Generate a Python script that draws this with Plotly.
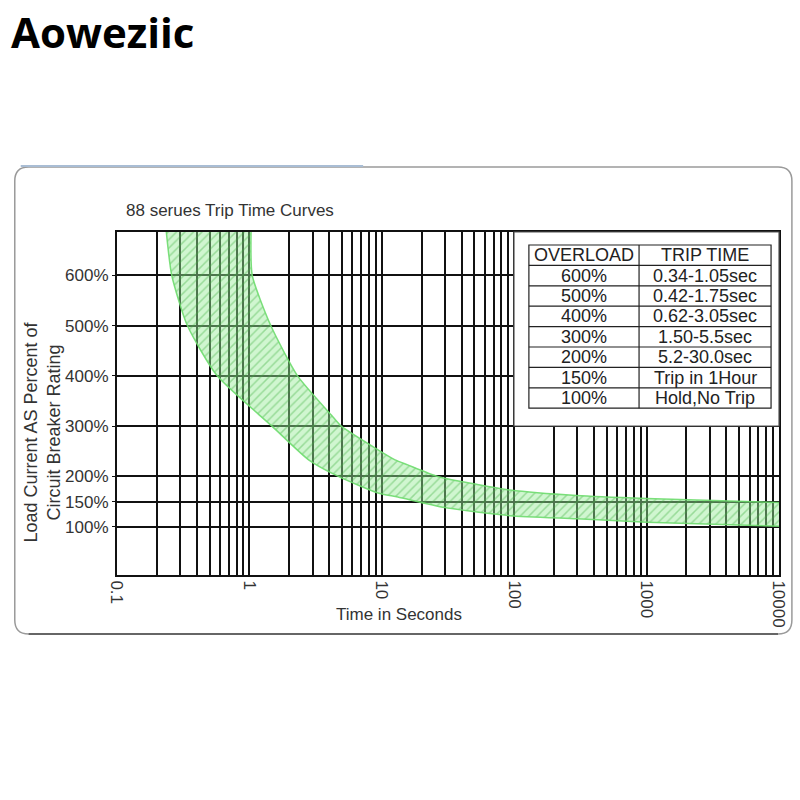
import plotly.graph_objects as go

# ---------------- data ----------------
min_time = [0.235, 0.259, 0.34, 0.571, 1.48, 2.80, 4.70, 9.36, 13.2, 29.8, 93, 296, 1000, 10000]
min_pct = [690, 600, 500, 400, 300, 233, 200, 167, 159, 138, 122, 116, 109, 101]
max_time = [1.03, 1.05, 1.45, 2.31, 4.16, 4.94, 9.36, 12.6, 15.7, 26.4, 52.6, 93, 296, 1000, 10000]
max_pct = [690, 600, 500, 400, 322, 300, 253, 233, 223, 200, 184, 173, 162, 156, 148]

x_tick_vals = [0.1, 1, 10, 100, 1000, 10000]
x_tick_text = ["0.1", "1", "10", "100", "1000", "10000"]
y_tick_vals = [100, 150, 200, 300, 400, 500, 600]
y_tick_text = ["100%", "150%", "200%", "300%", "400%", "500%", "600%"]

table_header = ["OVERLOAD", "TRIP TIME"]
table_overload = ["600%", "500%", "400%", "300%", "200%", "150%", "100%"]
table_trip = ["0.34-1.05sec", "0.42-1.75sec", "0.62-3.05sec", "1.50-5.5sec",
              "5.2-30.0sec", "Trip in 1Hour", "Hold,No Trip"]

FONT = "Liberation Sans, Arial, sans-serif"

# ---------------- layout helpers (pixel -> paper) ----------------
PX0, PX1, PY0, PY1 = 117, 784, 232, 575
W, H = PX1 - PX0, PY1 - PY0


def fx(px):
    return (px - PX0) / W


def fy(py):
    return (PY1 - py) / H


fig = go.Figure()

band_line = dict(color="rgba(110,220,110,0.9)", width=1.5, shape="spline", smoothing=0.6)
fig.add_trace(go.Scatter(
    x=min_time, y=min_pct, mode="lines", line=band_line,
    hoverinfo="skip", showlegend=False,
))
fig.add_trace(go.Scatter(
    x=max_time, y=max_pct, mode="lines", line=band_line, fill="tonexty",
    fillcolor="rgba(140,230,140,0.45)",
    fillpattern=dict(shape="/", fgcolor="rgba(60,175,60,0.75)",
                     bgcolor="rgba(150,235,150,0.45)", size=6, solidity=0.25),
    hoverinfo="skip", showlegend=False,
))

minor_vals = [d * 10 ** e for e in range(-1, 4) for d in range(2, 10)]

fig.update_xaxes(
    type="log", range=[-1, 4],
    tickmode="array", tickvals=x_tick_vals, ticktext=x_tick_text,
    tickangle=90, tickfont=dict(family=FONT, size=17, color="#333"),
    showgrid=True, gridcolor="#111", gridwidth=1.6,
    minor=dict(tickmode="array", tickvals=minor_vals, showgrid=True,
               gridcolor="#111", gridwidth=1.6, ticks=""),
    showline=True, linecolor="#111", linewidth=2, mirror=True,
    ticks="", zeroline=False,
)
fig.update_yaxes(
    range=[4, 686],
    tickmode="array", tickvals=y_tick_vals, ticktext=y_tick_text,
    tickfont=dict(family=FONT, size=17, color="#333"),
    showgrid=True, gridcolor="#111", gridwidth=1.6,
    showline=True, linecolor="#111", linewidth=2, mirror=True,
    ticks="outside", ticklen=3, tickcolor="#111", zeroline=False,
)

shapes = []
annotations = []

# card frame
L, R, T, B, r = 14, 797, 167, 634, 14
path = (f"M {fx(L)},{fy(T + r)} Q {fx(L)},{fy(T)} {fx(L + r)},{fy(T)} "
        f"L {fx(R - r)},{fy(T)} Q {fx(R)},{fy(T)} {fx(R)},{fy(T + r)} "
        f"L {fx(R)},{fy(B - r)} Q {fx(R)},{fy(B)} {fx(R - r)},{fy(B)} "
        f"L {fx(L + r)},{fy(B)} Q {fx(L)},{fy(B)} {fx(L)},{fy(B - r)} Z")
shapes.append(dict(type="path", path=path, xref="paper", yref="paper",
                   line=dict(color="#9a9a9a", width=1.5), layer="below"))
shapes.append(dict(type="line", xref="paper", yref="paper",
                   x0=fx(L + 6), x1=fx(365), y0=fy(166), y1=fy(166),
                   line=dict(color="#a9bdd4", width=2)))
shapes.append(dict(type="line", xref="paper", yref="paper",
                   x0=fx(L + r), x1=fx(R - r), y0=fy(B), y1=fy(B),
                   line=dict(color="#666", width=2)))

# table box (white background over grid)
shapes.append(dict(type="rect", xref="paper", yref="paper",
                   x0=fx(517), x1=fx(784), y0=fy(426), y1=fy(232),
                   fillcolor="white", line=dict(color="#555", width=1.2), layer="above"))
TX0, TXM, TX1 = 532, 643, 776
TY0, RH = 245, 20.4
nrows = len(table_overload) + 1
shapes.append(dict(type="rect", xref="paper", yref="paper",
                   x0=fx(TX0), x1=fx(TX1), y0=fy(TY0 + RH * nrows), y1=fy(TY0),
                   line=dict(color="#222", width=1.2), layer="above"))
shapes.append(dict(type="line", xref="paper", yref="paper",
                   x0=fx(TXM), x1=fx(TXM), y0=fy(TY0 + RH * nrows), y1=fy(TY0),
                   line=dict(color="#222", width=1.2), layer="above"))
for i in range(1, nrows):
    shapes.append(dict(type="line", xref="paper", yref="paper",
                       x0=fx(TX0), x1=fx(TX1), y0=fy(TY0 + RH * i), y1=fy(TY0 + RH * i),
                       line=dict(color="#222", width=1.2), layer="above"))

rows = [table_header] + [[a, b] for a, b in zip(table_overload, table_trip)]
for i, (a, b) in enumerate(rows):
    yc = fy(TY0 + RH * (i + 0.5))
    annotations.append(dict(x=fx((TX0 + TXM) / 2), y=yc, xref="paper", yref="paper",
                            text=a, showarrow=False, xanchor="center", yanchor="middle",
                            font=dict(family=FONT, size=18, color="#222")))
    annotations.append(dict(x=fx((TXM + TX1) / 2), y=yc, xref="paper", yref="paper",
                            text=b, showarrow=False, xanchor="center", yanchor="middle",
                            font=dict(family=FONT, size=18, color="#222")))

# titles
annotations.append(dict(x=fx(8), y=fy(1), xref="paper", yref="paper", text="<b>Aoweziic</b>",
                        showarrow=False, xanchor="left", yanchor="top",
                        font=dict(family="Open Sans, DejaVu Sans, sans-serif", size=42, color="#000")))
annotations.append(dict(x=fx(124), y=fy(211), xref="paper", yref="paper",
                        text="88 serues Trip Time Curves",
                        showarrow=False, xanchor="left", yanchor="middle",
                        font=dict(family=FONT, size=17, color="#333")))
annotations.append(dict(x=fx(401), y=fy(614), xref="paper", yref="paper",
                        text="Time in Seconds",
                        showarrow=False, xanchor="center", yanchor="middle",
                        font=dict(family=FONT, size=17, color="#333")))
annotations.append(dict(x=fx(41), y=fy(432), xref="paper", yref="paper",
                        text="Load Current AS Percent of<br>Circuit Breaker Rating",
                        showarrow=False, xanchor="center", yanchor="middle", textangle=-90,
                        font=dict(family=FONT, size=18, color="#333")))

fig.update_layout(
    width=800, height=800,
    margin=dict(l=PX0, r=800 - PX1, t=PY0, b=800 - PY1),
    paper_bgcolor="white", plot_bgcolor="white",
    shapes=shapes, annotations=annotations, showlegend=False,
)

fig.write_html("out.html", config={"displayModeBar": False},
               post_script="document.body.style.margin='0';")
